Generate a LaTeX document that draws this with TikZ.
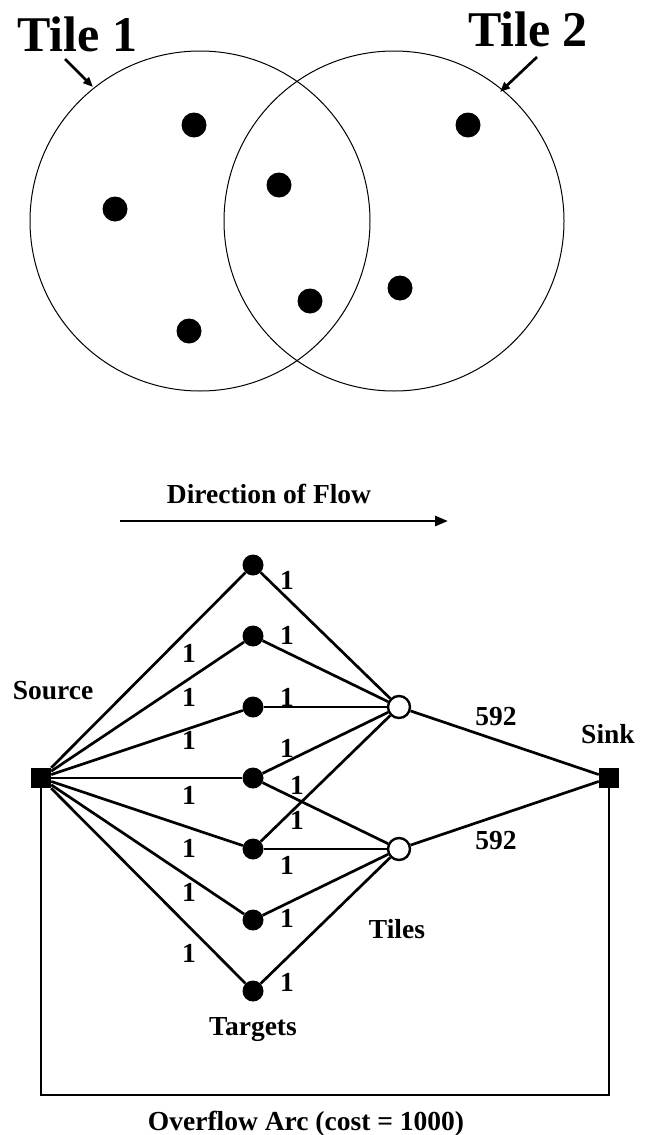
\documentclass[tikz,border=0pt]{standalone}
\usepackage{fontspec}
\setmainfont{Liberation Serif}
\usetikzlibrary{arrows.meta,positioning,shapes.geometric}
\tikzset
{
    member/.style   = {circle, fill=black, inner sep=0pt, minimum size=25pt},
    target/.style   = {circle, fill=black, inner sep=0pt, minimum size=21pt},
    tilenode/.style = {circle, draw=black, fill=white, line width=2.4pt, inner sep=0pt, minimum size=22pt},
    endnode/.style  = {rectangle, fill=black, inner sep=0pt, minimum size=20pt},
    lbl/.style      = {font=\fontsize{27.5}{30}\selectfont\bfseries, inner sep=0pt},
    tiletext/.style = {font=\fontsize{50}{55}\selectfont\bfseries, inner sep=0pt, anchor=base},
    flowedge/.style = {line width=2.7pt, line join=miter}
}

\begin{document}
\begin{tikzpicture}[x=1pt, y=-1pt, >={Triangle[length=13pt,width=10pt]}]
    \useasboundingbox (0,0) rectangle (647,1135);

    % the two tiles
    \node [tiletext] (tile1) at (77.5,51) {Tile 1};
    \node [tiletext] (tile2) at (528,46) {Tile 2};
    \draw [line width=1pt] (200,221) circle (170);
    \draw [line width=1pt] (394,221) circle (170);
    \coordinate (rim1) at (93,87);
    \coordinate (rim2) at (500,92);
    \draw [line width=2.7pt, -{Triangle[length=10pt,width=8pt]}] (65,59) -- (rim1);
    \draw [line width=2.7pt, -{Triangle[length=10pt,width=8pt]}] (537,57) -- (rim2);
    \node [member] (m1) at (194,125) {};
    \node [member] (m2) at (115,209) {};
    \node [member] (m3) at (279,185) {};
    \node [member] (m4) at (189,331) {};
    \node [member] (m5) at (310,301) {};
    \node [member] (m6) at (400,288) {};
    \node [member] (m7) at (468,125) {};

    % direction of flow
    \node [lbl, anchor=base] (dir) at (269,503) {Direction of Flow};
    \coordinate (flowstart) at (120,521);
    \coordinate (flowend) at (448,521);
    \draw [flowedge, ->] (flowstart) -- (flowend);

    % network
    \node [endnode] (src) at (41,778) {};
    \node [endnode] (snk) at (609,778) {};
    \node [target] (t1) at (253,565) {};
    \node [target] (t2) at (253,636) {};
    \node [target] (t3) at (253,707) {};
    \node [target] (t4) at (253,778) {};
    \node [target] (t5) at (253,849) {};
    \node [target] (t6) at (253,920) {};
    \node [target] (t7) at (253,991) {};
    \node [tilenode] (ta) at (399,707) {};
    \node [tilenode] (tb) at (399,849) {};

    \draw [flowedge] (src) -- (t1);
    \draw [flowedge] (src) -- (t2);
    \draw [flowedge] (src) -- (t3);
    \draw [flowedge] (src) -- (t4);
    \draw [flowedge] (src) -- (t5);
    \draw [flowedge] (src) -- (t6);
    \draw [flowedge] (src) -- (t7);
    \draw [flowedge] (t1) -- (ta);
    \draw [flowedge] (t2) -- (ta);
    \draw [flowedge] (t3) -- (ta);
    \draw [flowedge] (t4) -- (ta);
    \draw [flowedge] (t5) -- (ta);
    \draw [flowedge] (t4) -- (tb);
    \draw [flowedge] (t5) -- (tb);
    \draw [flowedge] (t6) -- (tb);
    \draw [flowedge] (t7) -- (tb);
    \draw [flowedge] (ta) -- (snk);
    \draw [flowedge] (tb) -- (snk);
    \coordinate (ovl) at (41,1095);
    \coordinate (ovr) at (609,1095);
    \draw [flowedge] (src) -- (ovl) -- (ovr) -- (snk);

    % capacities
    \node [lbl] (c1) at (189,653) {1};
    \node [lbl] (c2) at (189,697) {1};
    \node [lbl] (c3) at (189,740) {1};
    \node [lbl] (c4) at (189,795) {1};
    \node [lbl] (c5) at (189,848) {1};
    \node [lbl] (c6) at (189,892) {1};
    \node [lbl] (c7) at (189,953) {1};
    \node [lbl] (d1) at (287,580) {1};
    \node [lbl] (d2) at (287,635) {1};
    \node [lbl] (d3) at (287,697) {1};
    \node [lbl] (d4) at (287,748) {1};
    \node [lbl] (d5) at (297,785) {1};
    \node [lbl] (d6) at (297,820) {1};
    \node [lbl] (d7) at (287,865) {1};
    \node [lbl] (d8) at (287,918) {1};
    \node [lbl] (d9) at (287,982) {1};
    \node [lbl, anchor=base] (ca) at (496,725) {592};
    \node [lbl, anchor=base] (cb) at (496,849) {592};

    % names
    \node [lbl, anchor=base] (srclbl) at (53,699) {Source};
    \node [lbl, anchor=base] (snklbl) at (608,743) {Sink};
    \node [lbl, anchor=base] (tilelbl) at (397,938) {Tiles};
    \node [lbl, anchor=base] (tgtlbl) at (253,1035) {Targets};
    \node [lbl, anchor=base] (ovllbl) at (306,1130) {Overflow Arc (cost = 1000)};
\end{tikzpicture}
\end{document}
